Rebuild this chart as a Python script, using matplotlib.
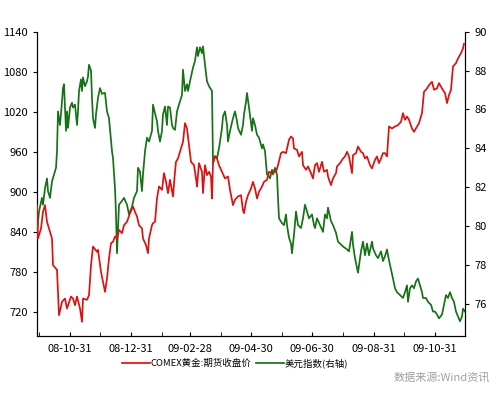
import matplotlib
matplotlib.use("Agg")
import matplotlib.pyplot as plt
import numpy as np
import pandas as pd

plt.rcParams['font.family'] = ['Noto Sans CJK SC', 'DejaVu Sans']

# days counted from 2008-09-28
start = pd.Timestamp('2008-09-28')

gold_days = [0, 1, 4, 6, 8, 10, 12, 15, 16, 20, 21, 22, 25, 28, 30, 34, 36, 38, 40, 43,
             45, 46, 50, 52, 54, 56, 60, 61, 64, 66, 68, 70, 72, 74, 76, 78, 80, 82, 85, 87,
             90, 93, 96, 98, 100, 102, 105, 106, 109, 111, 112, 115, 116, 118, 120, 122, 125, 127, 129, 131,
             133, 136, 138, 139, 141, 144, 146, 148, 150, 152, 154, 157, 159, 160, 162, 165, 166, 168, 170, 172,
             174, 175, 176, 178, 180, 182, 185, 188, 191, 193, 196, 198, 201, 204, 206, 207, 209, 211, 214, 216,
             218, 220, 222, 225, 227, 230, 232, 235, 237, 239, 241, 244, 246, 249, 252, 254, 256, 257, 260, 262,
             265, 266, 269, 271, 274, 276, 278, 280, 282, 285, 287, 290, 291, 294, 296, 299, 300, 303, 306, 308,
             310, 312, 315, 316, 319, 321, 324, 326, 328, 330, 333, 335, 338, 340, 342, 344, 346, 348, 350, 352,
             355, 358, 361, 364, 366, 368, 370, 372, 375, 377, 380, 382, 385, 387, 390, 392, 395, 397, 400, 402,
             405, 408, 410, 412, 414, 416, 419, 421, 424, 426, 427]
gold = [880, 830, 845, 870, 880, 855, 845, 830, 790, 783, 750, 715, 735, 740, 725, 743, 740, 730, 743, 725,
        705, 740, 738, 745, 790, 818, 810, 813, 780, 765, 750, 770, 800, 823, 825, 833, 830, 843, 838, 850,
        855, 868, 878, 870, 863, 850, 845, 830, 820, 808, 830, 850, 853, 855, 890, 908, 903, 928, 915, 898,
        918, 893, 930, 945, 950, 965, 975, 1003, 995, 970, 945, 940, 920, 908, 943, 930, 898, 940, 925, 930,
        923, 890, 943, 953, 950, 940, 930, 920, 923, 903, 880, 888, 893, 895, 872, 868, 885, 895, 905, 915,
        905, 890, 900, 908, 915, 918, 930, 928, 930, 930, 940, 958, 960, 958, 978, 983, 980, 965, 963, 953,
        960, 940, 933, 938, 928, 920, 940, 943, 930, 945, 930, 933, 923, 910, 920, 928, 938, 943, 950, 953,
        960, 953, 928, 955, 958, 968, 960, 958, 950, 953, 940, 935, 948, 953, 943, 950, 958, 958, 953, 998,
        995, 998, 1000, 1005, 1018, 1008, 1013, 1008, 995, 990, 998, 1003, 1018, 1050, 1055, 1060, 1065, 1053, 1055, 1063,
        1055, 1048, 1033, 1045, 1053, 1088, 1093, 1100, 1108, 1115, 1122]

usd_days = [0, 2, 5, 6, 8, 10, 11, 13, 15, 17, 19, 20, 21, 23, 25, 26, 27, 29, 30, 31,
            33, 35, 36, 38, 40, 41, 42, 44, 45, 46, 48, 50, 51, 52, 54, 55, 56, 58, 59, 61,
            63, 65, 67, 68, 70, 72, 75, 76, 78, 79, 80, 82, 85, 87, 90, 92, 95, 97, 100, 101,
            103, 105, 106, 108, 110, 112, 115, 116, 118, 120, 121, 123, 125, 126, 128, 130, 131, 133, 135, 136,
            138, 140, 142, 145, 146, 148, 150, 151, 153, 156, 158, 160, 161, 163, 165, 166, 168, 170, 172, 175,
            176, 178, 180, 182, 185, 186, 188, 190, 191, 193, 196, 198, 200, 201, 204, 206, 207, 209, 210, 212,
            215, 216, 218, 220, 222, 225, 226, 228, 230, 231, 233, 235, 236, 238, 240, 241, 242, 245, 247, 249,
            250, 252, 254, 255, 257, 259, 261, 264, 266, 268, 270, 272, 275, 277, 278, 280, 283, 286, 288, 290,
            291, 294, 296, 299, 301, 304, 306, 310, 312, 315, 316, 318, 320, 321, 324, 326, 328, 330, 332, 335,
            336, 339, 341, 344, 346, 348, 350, 351, 353, 356, 358, 360, 363, 366, 368, 370, 371, 373, 375, 377,
            379, 381, 383, 385, 386, 389, 391, 394, 396, 398, 400, 402, 405, 407, 409, 411, 413, 415, 417, 419,
            421, 423, 425, 426, 428]
usd = [79.7, 80.75, 81.45, 81.1, 81.95, 82.45, 81.8, 81.45, 82.3, 82.65, 83.0, 83.85, 85.9, 85.2, 86.4, 87.1, 87.3, 84.9, 85.9, 85.05,
       86.1, 86.35, 86.1, 86.25, 85.2, 85.9, 86.95, 87.55, 86.95, 87.65, 87.2, 87.45, 87.7, 88.3, 88.0, 86.6, 85.55, 85.05, 85.75, 86.6,
       87.1, 86.8, 86.85, 86.85, 85.9, 85.55, 83.85, 83.5, 81.95, 80.6, 78.6, 81.1, 81.3, 81.45, 81.1, 80.6, 81.0, 81.45, 81.8, 83.0,
       82.8, 81.8, 82.65, 83.85, 84.55, 84.35, 84.9, 86.25, 85.8, 85.4, 84.9, 84.35, 84.9, 85.75, 86.15, 85.2, 86.15, 86.1, 85.2, 85.05,
       84.95, 85.9, 86.25, 86.75, 88.05, 86.95, 87.3, 86.95, 87.45, 88.15, 88.5, 89.2, 88.75, 89.2, 88.9, 89.25, 88.3, 87.45, 87.2, 86.95,
       83.25, 83.6, 83.5, 84.0, 85.05, 85.65, 85.9, 85.2, 84.35, 84.9, 85.55, 85.9, 85.4, 85.05, 84.7, 85.2, 85.75, 86.4, 86.85, 86.1,
       84.9, 85.55, 85.2, 84.7, 84.55, 84.0, 84.2, 83.85, 82.65, 82.65, 82.45, 82.9, 82.65, 83.0, 82.65, 81.45, 80.4, 80.15, 80.05, 80.6,
       80.05, 79.4, 79.1, 78.6, 79.55, 80.75, 80.05, 79.9, 80.4, 81.1, 80.75, 80.4, 80.6, 80.05, 79.9, 80.4, 80.05, 79.7, 80.6, 80.4,
       80.95, 80.25, 80.05, 79.65, 79.2, 79.05, 78.95, 78.8, 78.7, 79.7, 79.05, 78.35, 77.85, 77.6, 78.7, 79.2, 78.5, 79.1, 78.5, 79.2,
       78.85, 78.5, 78.35, 78.7, 78.2, 78.45, 78.8, 78.5, 78.0, 77.3, 76.8, 76.6, 76.45, 76.3, 76.6, 76.95, 76.1, 76.8, 76.95, 76.8,
       77.15, 77.3, 76.95, 76.6, 76.3, 76.3, 76.1, 75.95, 75.6, 75.6, 75.45, 75.25, 75.45, 75.95, 76.45, 76.3, 76.6, 76.3, 76.1, 75.6,
       75.35, 75.1, 75.35, 75.75, 75.6]

gold_label = 'COMEX黄金:期货收盘价'
usd_label = '美元指数(右轴)'
source_text = '数据来源:Wind资讯'

gold_dates = start + pd.to_timedelta(gold_days, unit='D')
usd_dates = start + pd.to_timedelta(usd_days, unit='D')

month_ends = pd.date_range('2008-09-30', '2009-11-30', freq='ME')
labeled = month_ends[1::2]

fig = plt.figure(figsize=(5, 3.97), dpi=100)
ax = fig.add_axes([0.074, 0.154, 0.856, 0.766])
ax2 = ax.twinx()

l1, = ax.plot(gold_dates, gold, color='#e01010', lw=1.25, label=gold_label, zorder=3)
l2, = ax2.plot(usd_dates, usd, color='#167216', lw=1.25, label=usd_label)
ax.set_zorder(ax2.get_zorder() + 1)
ax.patch.set_visible(False)

ax.set_xlim(pd.Timestamp('2008-09-28'), pd.Timestamp('2009-11-30'))
ax.set_ylim(684, 1140)
ax.set_yticks(np.arange(720, 1141, 60))
ax2.set_ylim(74.35, 90)
ax2.set_yticks(np.arange(76, 91, 2))

ax.set_xticks(labeled)
ax.set_xticklabels([d.strftime('%y-%m-%d') for d in labeled])
ax.set_xticks(month_ends, minor=True)

for a in (ax, ax2):
    a.spines['top'].set_visible(False)
    a.tick_params(labelsize=8, width=0.8, colors='black')
ax.tick_params(axis='y', direction='out', length=3)
ax2.tick_params(axis='y', direction='out', length=3)
ax.tick_params(axis='x', which='both', direction='in', length=3, pad=6)

fig.legend([l1, l2], [gold_label, usd_label], loc='center', bbox_to_anchor=(0.47, 0.085),
           ncol=2, frameon=False, fontsize=6.8, handlelength=3.0, handletextpad=0.1,
           columnspacing=0.4)
fig.text(0.98, 0.049, source_text, ha='right', va='center', fontsize=8, color='#a0a0a0')

fig.savefig('out.png', dpi=100)
